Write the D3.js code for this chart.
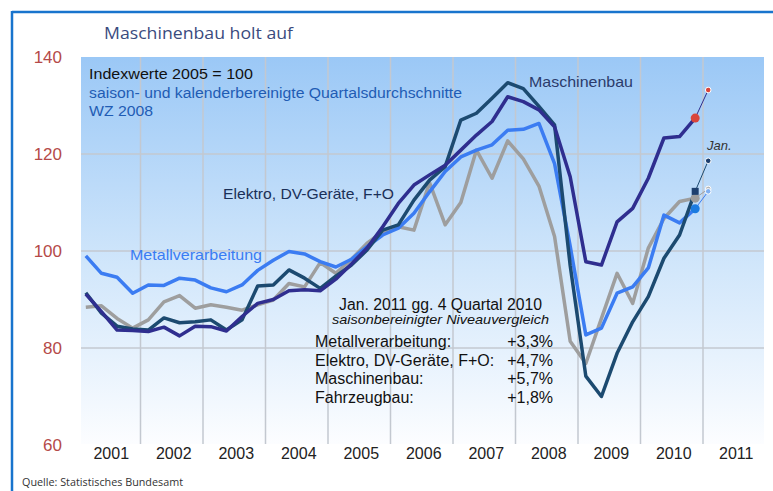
<!DOCTYPE html>
<html>
<head>
<meta charset="utf-8">
<script src="https://cdn.jsdelivr.net/npm/d3@7/dist/d3.min.js"></script>
<style>
  body { margin: 0; background: #fff; }
  svg { display: block; font-family: "Liberation Sans", Arial, sans-serif; }
</style>
</head>
<body>
<svg id="chart" width="773" height="491"></svg>
<script>
// quarterly index values 2001 Q1 .. 2010 Q4 (2005 = 100)
const years = [2001, 2002, 2003, 2004, 2005, 2006, 2007, 2008, 2009, 2010, 2011]
const yTicks = [60, 80, 100, 120, 140]

const metall = [99.0, 95.4, 94.6, 91.3, 93.0, 92.9, 94.4, 94.0, 92.4, 91.6,
  93.0, 96.0, 98.1, 99.9, 99.4, 97.8, 96.7, 98.3, 100.9, 103.3,
  104.7, 107.8, 112.2, 116.4, 119.4, 120.8, 121.9, 124.9, 125.1, 126.3,
  118.0, 101.0, 82.7, 84.1, 91.3, 92.6, 96.5, 107.4, 105.8, 108.7]
const elektro = [91.4, 87.2, 84.5, 83.9, 83.7, 86.2, 85.2, 85.4, 85.8, 83.7,
  85.8, 92.8, 93.0, 96.1, 94.4, 92.3, 94.8, 97.1, 100.2, 104.3,
  105.4, 110.5, 114.6, 117.4, 127.0, 128.4, 131.5, 134.7, 133.5, 129.8,
  126.0, 97.0, 74.2, 70.0, 78.9, 85.4, 90.6, 98.5, 103.3, 112.3]
const maschinenbau = [91.1, 87.5, 83.7, 83.6, 83.4, 84.3, 82.5, 84.5, 84.4, 83.5,
  86.5, 89.2, 90.0, 91.8, 92.0, 91.8, 94.2, 97.3, 100.6, 105.0,
  109.8, 113.6, 115.7, 117.7, 120.8, 123.9, 126.7, 131.8, 130.8, 129.1,
  125.6, 115.3, 97.8, 97.1, 106.0, 108.8, 115.0, 123.3, 123.6, 127.4]
const fahrzeugbau = [88.4, 88.7, 86.1, 84.1, 85.8, 89.5, 90.8, 88.2, 88.9, 88.4,
  87.8, 88.9, 89.9, 93.3, 92.6, 97.6, 95.4, 98.3, 101.6, 104.0,
  105.0, 104.3, 114.1, 105.4, 110.0, 120.8, 115.0, 122.7, 119.0, 113.4,
  103.0, 81.4, 76.8, 86.1, 95.4, 89.2, 100.6, 106.7, 110.2, 110.9]

// January 2011, same order as seriesNames
const seriesNames = ['Metallverarbeitung', 'Elektro, DV-Geräte, F+O', 'Maschinenbau', 'Fahrzeugbau']
const janValues = [112.3, 118.6, 133.2, 112.8]
const changes = ['+3,3%', '+4,7%', '+5,7%', '+1,8%']

const colors = ['#3b7cf2', '#1c4a70', '#2f2e8f', '#9e9e9e']
const endColors = ['#1b7be0', '#1d3f6e', '#d9453b', '#9c9c9c']
const janColors = ['#7fb0f2', '#1d3f6e', '#d9453b', '#b4b4b4']

const svg = d3.select('#chart')
const x = d3.scaleLinear().domain([2001, 2012]).range([78, 765.5])
const y = d3.scaleLinear().domain([60, 140]).range([445, 57])
const qx = (i) => x(2001 + (i + 0.5) / 4)
const janX = x(2011 + 1 / 12)

// frame
svg.append('line').attr('x1', 12).attr('x2', 773).attr('y1', 12).attr('y2', 12)
  .attr('stroke', '#1874cd').attr('stroke-width', 2.5)
svg.append('line').attr('x1', 12).attr('x2', 12).attr('y1', 11).attr('y2', 491)
  .attr('stroke', '#1874cd').attr('stroke-width', 2.5)

svg.append('text').attr('x', 104).attr('y', 39)
  .attr('font-family', '"Open Sans", sans-serif').attr('font-size', 17)
  .attr('fill', '#3a4b7e').attr('textLength', 189).attr('lengthAdjust', 'spacingAndGlyphs')
  .text('Maschinenbau holt auf')

// plot background
const grad = svg.append('defs').append('linearGradient').attr('id', 'bg')
  .attr('x1', 0).attr('x2', 0).attr('y1', 0).attr('y2', 1)
grad.append('stop').attr('offset', '0%').attr('stop-color', '#9bc8f6')
grad.append('stop').attr('offset', '55%').attr('stop-color', '#d2e7fb')
grad.append('stop').attr('offset', '100%').attr('stop-color', '#fcfdff')

svg.append('rect').attr('x', 81).attr('y', 57).attr('width', 683).attr('height', 387)
  .attr('fill', 'url(#bg)')

const grid = svg.append('g').attr('stroke', '#c3c8d0').attr('stroke-width', 1.5)
grid.selectAll('.h').data([80, 100, 120]).enter().append('line')
  .attr('x1', 81).attr('x2', 764).attr('y1', d => y(d)).attr('y2', d => y(d))
grid.selectAll('.v').data(years.slice(1)).enter().append('line')
  .attr('x1', d => x(d)).attr('x2', d => x(d)).attr('y1', 57).attr('y2', 444)

// axes labels
svg.append('g').selectAll('text').data(yTicks).enter().append('text')
  .attr('x', 62).attr('y', d => y(d)).attr('dy', '0.36em').attr('text-anchor', 'end')
  .attr('font-size', 17).attr('fill', '#b54a48').text(d => d)

svg.append('g').selectAll('text').data(years).enter().append('text')
  .attr('x', d => x(d + 0.5) + 2).attr('y', 459).attr('text-anchor', 'middle')
  .attr('font-size', 16).attr('fill', '#222').text(d => d)

svg.append('text').attr('x', 22).attr('y', 486)
  .attr('font-family', '"Open Sans", sans-serif').attr('font-size', 10).attr('fill', '#333')
  .attr('textLength', 161).attr('lengthAdjust', 'spacingAndGlyphs')
  .text('Quelle: Statistisches Bundesamt')

// header text
svg.append('text').attr('x', 89).attr('y', 79).attr('font-size', 15).attr('fill', '#111')
  .attr('textLength', 164).attr('lengthAdjust', 'spacingAndGlyphs').text('Indexwerte  2005 = 100')
svg.append('text').attr('x', 89).attr('y', 97.5).attr('font-size', 14).attr('fill', '#1f5cb4')
  .attr('textLength', 373).attr('lengthAdjust', 'spacingAndGlyphs')
  .text('saison- und kalenderbereinigte Quartalsdurchschnitte')
svg.append('text').attr('x', 89).attr('y', 116).attr('font-size', 15).attr('fill', '#1f5cb4')
  .attr('textLength', 64).attr('lengthAdjust', 'spacingAndGlyphs').text('WZ 2008')

// lines
const series = [metall, elektro, maschinenbau, fahrzeugbau]
const drawOrder = [3, 0, 1, 2]
const line = d3.line().x((d, i) => qx(i)).y(d => y(d))

svg.append('g').selectAll('path').data(drawOrder).enter().append('path')
  .attr('d', k => line(series[k]))
  .attr('fill', 'none').attr('stroke', k => colors[k]).attr('stroke-width', 3.5)
  .attr('stroke-linejoin', 'round')

// Q4 2010 -> Jan 2011
const last = series[0].length - 1
const ends = svg.append('g')
ends.selectAll('line').data(drawOrder).enter().append('line')
  .attr('x1', qx(last)).attr('y1', k => y(series[k][last]))
  .attr('x2', janX).attr('y2', k => y(janValues[k]))
  .attr('stroke', k => colors[k]).attr('stroke-width', 1)
ends.selectAll('circle.jan').data(drawOrder).enter().append('circle')
  .attr('cx', janX).attr('cy', k => y(janValues[k])).attr('r', 2.8)
  .attr('fill', k => janColors[k]).attr('stroke', '#fff').attr('stroke-width', 1)
ends.selectAll('.q4').data(drawOrder).enter().append(k => document.createElementNS(d3.namespaces.svg, k === 1 ? 'rect' : 'circle'))
  .each(function (k) {
    const el = d3.select(this)
    const cy = y(series[k][last])
    if (k === 1) {
      el.attr('x', qx(last) - 3.5).attr('y', cy - 3.5).attr('width', 7).attr('height', 7)
    } else {
      el.attr('cx', qx(last)).attr('cy', cy).attr('r', 4.5)
    }
    el.attr('fill', endColors[k])
  })

svg.append('text').attr('x', 707).attr('y', 150).attr('font-size', 13).attr('font-style', 'italic')
  .attr('fill', '#333').text('Jan.')

// series labels
svg.append('text').attr('x', 529).attr('y', 87).attr('font-size', 15).attr('fill', '#2b3b6b')
  .attr('textLength', 104).attr('lengthAdjust', 'spacingAndGlyphs').text(seriesNames[2])
svg.append('text').attr('x', 223).attr('y', 199).attr('font-size', 15).attr('fill', '#1a3058')
  .attr('textLength', 171).attr('lengthAdjust', 'spacingAndGlyphs').text(seriesNames[1])
svg.append('text').attr('x', 130).attr('y', 260).attr('font-size', 15).attr('fill', colors[0])
  .attr('textLength', 132).attr('lengthAdjust', 'spacingAndGlyphs').text(seriesNames[0])

// comparison box
svg.append('text').attr('x', 339).attr('y', 310).attr('font-size', 16).attr('fill', '#111')
  .attr('textLength', 203).attr('lengthAdjust', 'spacingAndGlyphs').text('Jan. 2011 gg. 4 Quartal 2010')
svg.append('text').attr('x', 332).attr('y', 324).attr('font-size', 13).attr('font-style', 'italic')
  .attr('fill', '#111').attr('textLength', 217).attr('lengthAdjust', 'spacingAndGlyphs')
  .text('saisonbereinigter Niveauvergleich')

const rows = svg.append('g').attr('font-size', 16).attr('fill', '#111')
rows.selectAll('text.name').data(seriesNames).enter().append('text')
  .attr('x', 315).attr('y', (d, i) => 347 + i * 18.5).text(d => d + ':')
rows.selectAll('text.val').data(changes).enter().append('text')
  .attr('x', 553).attr('y', (d, i) => 347 + i * 18.5).attr('text-anchor', 'end').text(d => d)
</script>
</body>
</html>
